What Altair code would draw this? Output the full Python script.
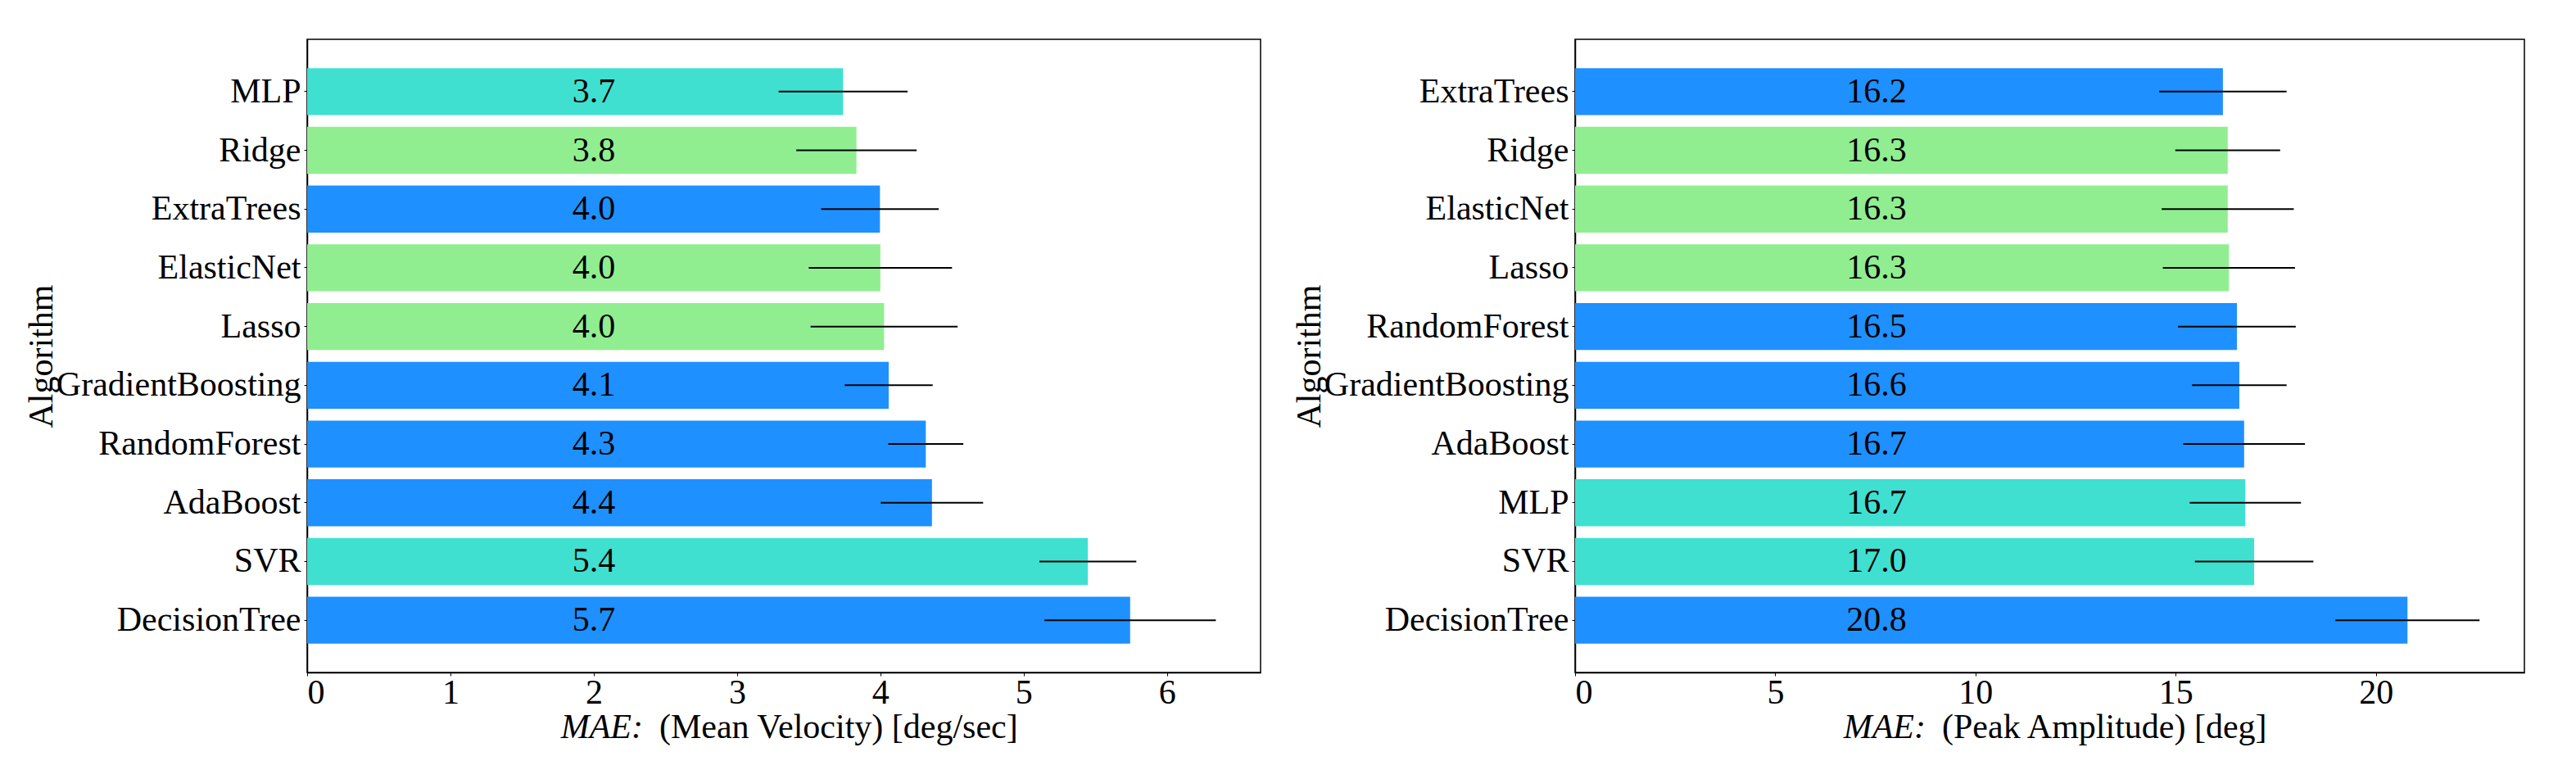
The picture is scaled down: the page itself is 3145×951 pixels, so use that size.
import altair as alt
import pandas as pd

# ---- data ----
algos_vel = ["MLP", "Ridge", "ExtraTrees", "ElasticNet", "Lasso",
             "GradientBoosting", "RandomForest", "AdaBoost", "SVR", "DecisionTree"]
mae_vel = [3.74, 3.833, 3.997, 4.0, 4.026, 4.058, 4.317, 4.36, 5.448, 5.743]
err_vel = [0.45, 0.42, 0.41, 0.50, 0.513, 0.307, 0.262, 0.357, 0.338, 0.598]

algos_amp = ["ExtraTrees", "Ridge", "ElasticNet", "Lasso", "RandomForest",
             "GradientBoosting", "AdaBoost", "MLP", "SVR", "DecisionTree"]
mae_amp = [16.18, 16.30, 16.30, 16.33, 16.53, 16.59, 16.71, 16.74, 16.96, 20.79]
err_amp = [1.59, 1.31, 1.65, 1.65, 1.47, 1.18, 1.52, 1.39, 1.48, 1.80]

family_of = {
    "ExtraTrees": "tree", "GradientBoosting": "tree", "RandomForest": "tree",
    "AdaBoost": "tree", "DecisionTree": "tree",
    "Ridge": "linear", "ElasticNet": "linear", "Lasso": "linear",
    "MLP": "other", "SVR": "other",
}
family_domain = ["tree", "linear", "other"]
family_colors = ["#1E90FF", "#90EE90", "#40E0D0"]

FONT = "Liberation Serif"
FS = 42
PLOT_H = 773


def panel(algos, mae, err, xmax, ticks, label_x, width, title_rest, split_x):
    df = pd.DataFrame({
        "algo": algos,
        "mae": mae,
        "err": err,
        "family": [family_of[a] for a in algos],
    })
    base = alt.Chart(df).transform_calculate(
        lo="datum.mae - datum.err", hi="datum.mae + datum.err"
    )
    y_enc = alt.Y(
        "algo:N", sort=algos,
        scale=alt.Scale(paddingInner=0.2, paddingOuter=0.49),
        axis=alt.Axis(title="Algorithm", labelPadding=4, labelLimit=600,
                      minExtent=290, maxExtent=290, titlePadding=13),
    )
    x_scale = alt.Scale(domain=[0, xmax], nice=False, zero=True)
    bars = base.mark_bar().encode(
        x=alt.X("mae:Q", scale=x_scale,
                axis=alt.Axis(values=ticks, title=None, labelPadding=0, format="d")),
        y=y_enc,
        color=alt.Color("family:N",
                        scale=alt.Scale(domain=family_domain, range=family_colors),
                        legend=None),
    )
    errs = base.mark_rule(color="black", strokeWidth=2).encode(
        x=alt.X("lo:Q", scale=x_scale),
        x2="hi:Q",
        y=alt.Y("algo:N", sort=algos),
    )
    labels = base.mark_text(font=FONT, fontSize=FS, baseline="middle",
                            align="center", color="black").encode(
        x=alt.datum(label_x),
        y=alt.Y("algo:N", sort=algos),
        text=alt.Text("mae:Q", format=".1f"),
    )
    t_italic = alt.Chart(pd.DataFrame({"t": ["MAE:"]})).mark_text(
        font=FONT, fontSize=FS, fontStyle="italic", align="right",
        baseline="alphabetic", color="black"
    ).encode(x=alt.value(split_x), y=alt.value(853), text="t:N")
    t_rest = alt.Chart(pd.DataFrame({"t": [title_rest]})).mark_text(
        font=FONT, fontSize=FS, align="left", baseline="alphabetic", color="black"
    ).encode(x=alt.value(split_x + 20), y=alt.value(853), text="t:N")
    return alt.layer(bars, errs, labels, t_italic, t_rest).properties(
        width=width, height=PLOT_H
    )


left = panel(algos_vel, mae_vel, err_vel, 6.653, [0, 1, 2, 3, 4, 5, 6], 2.0,
             1164, "(Mean Velocity) [deg/sec]", 410)
right = panel(algos_amp, mae_amp, err_amp, 23.71, [0, 5, 10, 15, 20], 7.53,
              1159, "(Peak Amplitude) [deg]", 428)

chart = alt.hconcat(left, right, spacing=36).properties(
    padding={"left": 20, "top": 39, "right": 5, "bottom": 5}
).configure_view(
    stroke="black", strokeWidth=1.5
).configure_axis(
    labelFont=FONT, labelFontSize=FS, labelColor="black",
    titleFont=FONT, titleFontSize=FS, titleFontWeight="normal", titleColor="black",
    domainColor="black", domainWidth=1.5, tickColor="black", grid=False, tickSize=4,
)

chart.save("out.html", embed_options={"renderer": "svg", "actions": False})
